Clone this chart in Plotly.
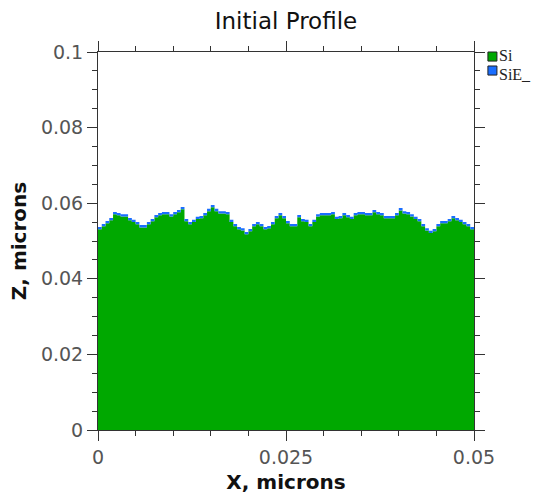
import plotly.graph_objects as go

# Surface height (top of SiE_ layer), microns, one value per 0.0005-micron column
surface_top = [
    0.0537, 0.0545, 0.0553, 0.0561, 0.0577, 0.0574, 0.0571, 0.0571, 0.0561, 0.0556,
    0.0550, 0.0542, 0.0542, 0.0550, 0.0558, 0.0569, 0.0574, 0.0577, 0.0577, 0.0571,
    0.0577, 0.0582, 0.0590, 0.0558, 0.0550, 0.0556, 0.0564, 0.0566, 0.0574, 0.0585,
    0.0595, 0.0585, 0.0579, 0.0579, 0.0577, 0.0556, 0.0545, 0.0537, 0.0534, 0.0524,
    0.0532, 0.0545, 0.0550, 0.0545, 0.0537, 0.0540, 0.0550, 0.0566, 0.0574, 0.0566,
    0.0553, 0.0545, 0.0545, 0.0569, 0.0558, 0.0556, 0.0545, 0.0556, 0.0571, 0.0574,
    0.0574, 0.0574, 0.0577, 0.0564, 0.0566, 0.0574, 0.0569, 0.0564, 0.0574, 0.0577,
    0.0577, 0.0574, 0.0574, 0.0582, 0.0577, 0.0574, 0.0566, 0.0566, 0.0566, 0.0574,
    0.0587, 0.0579, 0.0577, 0.0571, 0.0564, 0.0558, 0.0545, 0.0534, 0.0527, 0.0532,
    0.0545, 0.0553, 0.0553, 0.0558, 0.0566, 0.0561, 0.0556, 0.0550, 0.0545, 0.0537,
]
sie_thickness = 0.0006
cell_width = 0.0005

x_ticks = [0, 0.025, 0.05]
x_tick_labels = ["0", "0.025", "0.05"]
y_ticks = [0, 0.02, 0.04, 0.06, 0.08, 0.1]
y_tick_labels = ["0", "0.02", "0.04", "0.06", "0.08", "0.1"]
materials = ["Si", "SiE_"]
colors = ["#00a800", "#1a6eff"]

n = len(surface_top)
xs = [i * cell_width for i in range(n)] + [n * cell_width]
top = surface_top + [surface_top[-1]]
si_top = [v - sie_thickness for v in top]

fig = go.Figure()
fig.add_trace(go.Scatter(
    x=xs, y=si_top, mode="lines", line=dict(shape="hv", width=0, color=colors[0]),
    fill="tozeroy", fillcolor=colors[0], name=materials[0], showlegend=False,
    hoverinfo="skip"))
fig.add_trace(go.Scatter(
    x=xs, y=top, mode="lines", line=dict(shape="hv", width=0, color=colors[1]),
    fill="tonexty", fillcolor=colors[1], name=materials[1], showlegend=False,
    hoverinfo="skip"))

axis_common = dict(
    showline=True, linecolor="#333333", linewidth=1, mirror="allticks",
    ticks="outside", ticklen=10, tickwidth=1, tickcolor="#333333",
    showgrid=False, zeroline=False, automargin=False,
    tickfont=dict(family="DejaVu Sans", size=19, color="#555555"),
)

title_font = dict(family="DejaVu Sans", size=20, color="#111111", weight="bold")

fig.update_xaxes(
    range=[0, 0.05], tickvals=x_ticks, ticktext=x_tick_labels,
    minor=dict(dtick=0.005, tick0=0, ticks="outside", ticklen=5, tickcolor="#333333", showgrid=False),
    title=dict(text="X, microns", font=title_font, standoff=8),
    **axis_common)
fig.update_yaxes(
    range=[0, 0.1], tickvals=y_ticks, ticktext=y_tick_labels,
    minor=dict(dtick=0.005, tick0=0, ticks="outside", ticklen=5, tickcolor="#333333", showgrid=False),
    title=dict(text="Z, microns", font=title_font, standoff=8),
    **axis_common)

# legend drawn as small squares with serif labels
legend_rows = [(1.0, 0.976), (0.963, 0.939)]
split_y = 0.9656
for k, (name, col) in enumerate(zip(materials, colors)):
    y1, y0 = legend_rows[k]
    fig.add_shape(type="rect", xref="paper", yref="paper",
                  x0=1.037, x1=1.061, y0=y0, y1=y1,
                  fillcolor=col, line=dict(color="#222222", width=1))
    fig.add_annotation(xref="paper", yref="paper", x=1.064, y=split_y,
                       text=name, showarrow=False, xanchor="left",
                       yanchor="bottom" if k == 0 else "top", borderpad=0,
                       font=dict(family="Liberation Serif", size=16, color="#222222"))

fig.update_layout(
    width=540, height=497,
    margin=dict(l=98, r=66, t=52, b=67, autoexpand=False),
    paper_bgcolor="white", plot_bgcolor="white",
    title=dict(text="Initial Profile", x=(98 + 188) / 540, xanchor="center", y=0.958, yanchor="middle",
               font=dict(family="DejaVu Sans", size=23, color="#111111")),
    showlegend=False,
)

fig.write_html("out.html")
